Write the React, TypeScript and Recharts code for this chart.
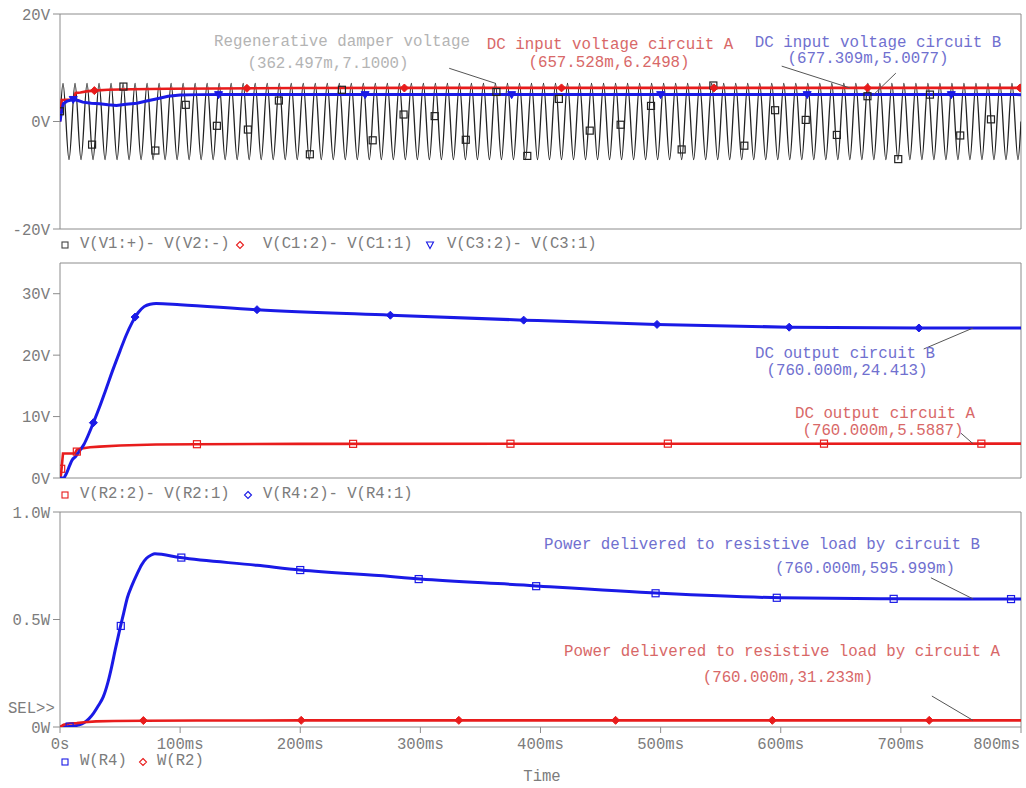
import {
  ComposedChart,
  Line,
  Scatter,
  XAxis,
  YAxis,
  ReferenceArea,
  ReferenceLine,
} from 'recharts'

const FONT = '"Liberation Mono", "Courier New", monospace'
const RED = '#e81c1c'
const BLUE = '#1a1ae6'
const BLACK = '#222'
const FRAME = '#8c8c8c'
const TICK_TEXT = '#7c7c7c'
const NOTE_GRAY = '#b4b4b4'
const NOTE_RED = '#d86868'
const NOTE_BLUE = '#7070cf'

// time axis, ms
const timeTicks = [0, 100, 200, 300, 400, 500, 600, 700, 800]
const timeLabels = ['0s', '100ms', '200ms', '300ms', '400ms', '500ms', '600ms', '700ms', '800ms']

// panel 1 - regenerative damper voltage (peaks / troughs), V
const damperT = [
  0,
  2.5, 7.5, 12.5, 17.5, 22.5, 27.5, 32.5, 37.5, 42.5, 47.5, 52.5, 57.5, 62.5, 67.5, 72.5, 77.5, 82.5, 87.5, 92.5, 97.5,
  102.5, 107.5, 112.5, 117.5, 122.5, 127.5, 132.5, 137.5, 142.5, 147.5, 152.5, 157.5, 162.5, 167.5, 172.5, 177.5, 182.5, 187.5, 192.5, 197.5,
  202.5, 207.5, 212.5, 217.5, 222.5, 227.5, 232.5, 237.5, 242.5, 247.5, 252.5, 257.5, 262.5, 267.5, 272.5, 277.5, 282.5, 287.5, 292.5, 297.5,
  302.5, 307.5, 312.5, 317.5, 322.5, 327.5, 332.5, 337.5, 342.5, 347.5, 352.5, 357.5, 362.5, 367.5, 372.5, 377.5, 382.5, 387.5, 392.5, 397.5,
  402.5, 407.5, 412.5, 417.5, 422.5, 427.5, 432.5, 437.5, 442.5, 447.5, 452.5, 457.5, 462.5, 467.5, 472.5, 477.5, 482.5, 487.5, 492.5, 497.5,
  502.5, 507.5, 512.5, 517.5, 522.5, 527.5, 532.5, 537.5, 542.5, 547.5, 552.5, 557.5, 562.5, 567.5, 572.5, 577.5, 582.5, 587.5, 592.5, 597.5,
  602.5, 607.5, 612.5, 617.5, 622.5, 627.5, 632.5, 637.5, 642.5, 647.5, 652.5, 657.5, 662.5, 667.5, 672.5, 677.5, 682.5, 687.5, 692.5, 697.5,
  702.5, 707.5, 712.5, 717.5, 722.5, 727.5, 732.5, 737.5, 742.5, 747.5, 752.5, 757.5, 762.5, 767.5, 772.5, 777.5, 782.5, 787.5, 792.5, 797.5,
  800,
]
const damperV = [
  0,
  7.1, -7.1, 7.1, -7.1, 7.1, -7.1, 7.1, -7.1, 7.1, -7.1, 7.1, -7.1, 7.1, -7.1, 7.1, -7.1, 7.1, -7.1, 7.1, -7.1,
  7.1, -7.1, 7.1, -7.1, 7.1, -7.1, 7.1, -7.1, 7.1, -7.1, 7.1, -7.1, 7.1, -7.1, 7.1, -7.1, 7.1, -7.1, 7.1, -7.1,
  7.1, -7.1, 7.1, -7.1, 7.1, -7.1, 7.1, -7.1, 7.1, -7.1, 7.1, -7.1, 7.1, -7.1, 7.1, -7.1, 7.1, -7.1, 7.1, -7.1,
  7.1, -7.1, 7.1, -7.1, 7.1, -7.1, 7.1, -7.1, 7.1, -7.1, 7.1, -7.1, 7.1, -7.1, 7.1, -7.1, 7.1, -7.1, 7.1, -7.1,
  7.1, -7.1, 7.1, -7.1, 7.1, -7.1, 7.1, -7.1, 7.1, -7.1, 7.1, -7.1, 7.1, -7.1, 7.1, -7.1, 7.1, -7.1, 7.1, -7.1,
  7.1, -7.1, 7.1, -7.1, 7.1, -7.1, 7.1, -7.1, 7.1, -7.1, 7.1, -7.1, 7.1, -7.1, 7.1, -7.1, 7.1, -7.1, 7.1, -7.1,
  7.1, -7.1, 7.1, -7.1, 7.1, -7.1, 7.1, -7.1, 7.1, -7.1, 7.1, -7.1, 7.1, -7.1, 7.1, -7.1, 7.1, -7.1, 7.1, -7.1,
  7.1, -7.1, 7.1, -7.1, 7.1, -7.1, 7.1, -7.1, 7.1, -7.1, 7.1, -7.1, 7.1, -7.1, 7.1, -7.1, 7.1, -7.1, 7.1, -7.1,
  0,
]
const damperMarkT = [0, 26.7, 52.8, 79.4, 104.7, 130.6, 156.4, 182.2, 208, 234.7, 260.3, 286, 311.9, 337.8, 363.3, 389, 415.3, 441, 466.7, 492, 517.5, 543.9, 569.7, 595.3, 620.8, 646.7, 672.2, 697.8, 724.2, 749.4, 775]
const damperMarkV = [1.9, -4.3, 6.5, -5.4, 3.1, -0.8, -1.5, 3.9, -6.1, 5.9, -3.5, 1.3, 1.0, -3.4, 5.5, -6.4, 4.2, -1.7, -0.6, 2.9, -5.2, 6.7, -4.5, 2.1, 0.3, -2.5, 4.7, -7.0, 5.0, -2.6, 0.4]

// DC input voltage circuit A
const inAT = [0, 0.6, 1.5, 11.5, 13, 17, 22, 28, 40, 60, 90, 130, 200, 300, 800]
const inAV = [0, 1.5, 4.0, 4.1, 5.3, 5.4, 5.6, 5.75, 5.9, 6.0, 6.1, 6.15, 6.22, 6.25, 6.25]
const inAMarkT = [28.6, 155.6, 286.7, 417.5, 544.4, 672.2, 799.2]
const inAMarkV = [5.75, 6.17, 6.23, 6.25, 6.25, 6.25, 6.25]

// DC input voltage circuit B
const inBT = [0, 1, 2.75, 6, 11, 15, 19, 26, 33, 40, 47, 55, 64, 72, 80, 90, 100, 115, 140, 800]
const inBV = [0, 1.5, 3.3, 3.8, 4.1, 3.9, 3.6, 3.4, 3.3, 3.1, 3.0, 3.2, 3.4, 3.8, 4.2, 4.7, 4.95, 5.0, 5.01, 5.0]
const inBMarkT = [11, 132, 254, 376, 500, 622, 742]
const inBMarkV = [4.1, 5.0, 5.0, 5.0, 5.0, 5.0, 5.0]

// panel 2 - DC output circuit A / B, V
const outAT = [0, 0.8, 2.5, 12.5, 14, 18, 25, 33, 50, 80, 114, 200, 400, 800]
const outAV = [0, 0.5, 4.0, 4.0, 4.6, 4.8, 5.0, 5.1, 5.3, 5.45, 5.5, 5.56, 5.58, 5.59]
const outAMarkT = [1, 14, 114, 244, 375, 506, 636, 767]
const outAMarkV = [1.5, 4.3, 5.5, 5.56, 5.58, 5.59, 5.59, 5.59]

const outBT = [0, 3, 5, 8, 10, 13, 17, 20, 24, 28, 33, 38, 44, 50, 55, 60, 65, 70, 75, 80, 100, 164, 275, 386, 497, 607, 715, 800]
const outBV = [0, 0, 0.6, 2.0, 2.9, 3.5, 4.6, 5.5, 7.2, 9.1, 11.6, 14.3, 17.6, 20.7, 23.2, 25.3, 26.9, 27.9, 28.3, 28.4, 28.2, 27.4, 26.5, 25.7, 25.0, 24.55, 24.42, 24.41]
const outBMarkT = [27.8, 62.5, 164, 275, 386, 497, 607, 715]
const outBMarkV = [9.0, 26.2, 27.4, 26.5, 25.7, 25.0, 24.55, 24.42]

// panel 3 - power in the loads, W
const powBT = [0, 8, 12, 16, 20, 24, 28, 32, 36, 40, 43, 46, 50, 53, 56, 60, 64, 68, 72, 76, 79, 100, 164, 200, 275, 300, 386, 400, 500, 600, 700, 800]
const powBV = [0, 0.002, 0.005, 0.01, 0.02, 0.038, 0.065, 0.1, 0.14, 0.21, 0.28, 0.36, 0.46, 0.53, 0.6, 0.66, 0.71, 0.755, 0.785, 0.8, 0.806, 0.788, 0.752, 0.73, 0.7, 0.688, 0.66, 0.655, 0.622, 0.601, 0.596, 0.595]
const powBMarkT = [8, 50.6, 101, 200, 298.6, 396.4, 495.8, 596.7, 694, 791.7]
const powBMarkV = [0.002, 0.47, 0.788, 0.73, 0.688, 0.655, 0.622, 0.601, 0.596, 0.595]

const powAT = [0, 3, 8, 14, 20, 30, 45, 70, 114, 200, 800]
const powAV = [0, 0.01, 0.016, 0.018, 0.022, 0.026, 0.028, 0.029, 0.03, 0.031, 0.031]
const powAMarkT = [69.4, 200.8, 332, 462.5, 593, 723.6]
const powAMarkV = [0.03, 0.031, 0.031, 0.031, 0.031, 0.031]

const pts = (ts: number[], vs: number[]) => ts.map((t, i) => ({ t, v: vs[i] }))

type Kind = 'square' | 'diamond' | 'tri'

function Marker({ cx, cy, kind, color }: { cx?: number; cy?: number; kind: Kind; color: string }) {
  if (cx == null || cy == null) return null
  if (kind === 'square') {
    return <rect x={cx - 3.5} y={cy - 3.5} width={7} height={7} fill="none" stroke={color} strokeWidth={1.2} />
  }
  if (kind === 'diamond') {
    return <path d={`M${cx},${cy - 4}L${cx + 4},${cy}L${cx},${cy + 4}L${cx - 4},${cy}Z`} fill={color} stroke={color} />
  }
  return <path d={`M${cx - 4},${cy - 3}L${cx + 4},${cy - 3}L${cx},${cy + 4}Z`} fill={color} stroke={color} />
}

const TimeTick = (props: any) => {
  const { x, y, payload } = props
  const last = payload.value === 800
  return (
    <text
      x={last ? x - 1 : x}
      y={y}
      dy="0.71em"
      textAnchor={last ? 'end' : 'middle'}
      fill={TICK_TEXT}
      fontSize={15.6}
      fontFamily={FONT}
    >
      {timeLabels[timeTicks.indexOf(payload.value)]}
    </text>
  )
}

interface Series { data: { t: number; v: number }[]; color: string; width: number; curve?: 'linear' | 'monotone' }
interface Marks { data: { t: number; v: number }[]; color: string; kind: Kind }
type Leader = [number, number, number, number]

interface PanelProps {
  top: number
  yDomain: [number, number]
  yTicks: number[]
  yFormat: (v: number) => string
  series: Series[]
  marks: Marks[]
  leaders: Leader[]
  showTime?: boolean
}

function Panel({ top, yDomain, yTicks, yFormat, series, marks, leaders, showTime }: PanelProps) {
  return (
    <div style={{ position: 'absolute', left: 0, top }}>
      <ComposedChart
        width={1026}
        height={showTime ? 259 : 240}
        margin={{ top: 14, right: 5, bottom: showTime ? 0 : 11, left: 0 }}
      >
        <XAxis
          type="number"
          dataKey="t"
          domain={[0, 800]}
          ticks={timeTicks}
          interval={0}
          hide={!showTime}
          height={showTime ? 30 : 0}
          axisLine={false}
          tickLine={{ stroke: FRAME }}
          tickSize={6}
          tickMargin={5}
          tick={<TimeTick />}
          allowDataOverflow
        />
        <YAxis
          type="number"
          dataKey="v"
          domain={yDomain}
          ticks={yTicks}
          interval={0}
          width={60}
          axisLine={false}
          tickLine={{ stroke: FRAME }}
          tickSize={7}
          tickMargin={3}
          tick={{ fill: TICK_TEXT, fontSize: 15.6, fontFamily: FONT }}
          tickFormatter={yFormat}
          allowDataOverflow
        />
        <ReferenceArea
          x1={0}
          x2={800}
          y1={yDomain[0]}
          y2={yDomain[1]}
          fill="none"
          stroke={FRAME}
          strokeWidth={1}
          ifOverflow="visible"
        />
        {series.map((s, i) => (
          <Line
            key={'l' + i}
            data={s.data}
            dataKey="v"
            type={s.curve || 'linear'}
            stroke={s.color}
            strokeWidth={s.width}
            dot={false}
            activeDot={false}
            isAnimationActive={false}
          />
        ))}
        {marks.map((m, i) => (
          <Scatter
            key={'m' + i}
            data={m.data}
            dataKey="v"
            isAnimationActive={false}
            shape={(p: any) => <Marker cx={p.cx} cy={p.cy} kind={m.kind} color={m.color} />}
          />
        ))}
        {leaders.map((l, i) => (
          <ReferenceLine
            key={'r' + i}
            segment={[{ x: l[0], y: l[1] }, { x: l[2], y: l[3] }]}
            stroke="#555"
            strokeWidth={1}
            ifOverflow="visible"
          />
        ))}
      </ComposedChart>
    </div>
  )
}

function Note({ x, y, color, text }: { x: number; y: number; color: string; text: string }) {
  return (
    <div
      style={{
        position: 'absolute',
        left: x,
        top: y,
        transform: 'translate(-50%, -50%)',
        color,
        fontFamily: FONT,
        fontSize: 15.8,
        lineHeight: 1,
        whiteSpace: 'pre',
      }}
    >
      {text}
    </div>
  )
}

interface LegendItem { kind: Kind; color: string; label: string; sx: number; tx: number }

function LegendSymbol({ kind, color }: { kind: Kind; color: string }) {
  let el
  if (kind === 'square') el = <rect x={2} y={2} width={6} height={6} fill="none" stroke={color} strokeWidth={1.1} />
  else if (kind === 'diamond') el = <path d="M5,1.5L8.5,5L5,8.5L1.5,5Z" fill="none" stroke={color} strokeWidth={1.1} />
  else el = <path d="M1.5,2L8.5,2L5,8.5Z" fill="none" stroke={color} strokeWidth={1.1} />
  return (
    <svg width={10} height={10} style={{ display: 'block' }}>
      {el}
    </svg>
  )
}

function LegendRow({ y, items }: { y: number; items: LegendItem[] }) {
  return (
    <>
      {items.map((it, i) => (
        <div key={i}>
          <div style={{ position: 'absolute', left: it.sx - 5, top: y - 5 }}>
            <LegendSymbol kind={it.kind} color={it.color} />
          </div>
          <div
            style={{
              position: 'absolute',
              left: it.tx,
              top: y,
              transform: 'translateY(-50%)',
              fontFamily: FONT,
              fontSize: 15.6,
              lineHeight: 1,
              color: TICK_TEXT,
              whiteSpace: 'pre',
            }}
          >
            {it.label}
          </div>
        </div>
      ))}
    </>
  )
}

export default function App() {
  return (
    <div
      style={{
        position: 'absolute',
        left: 0,
        top: 0,
        width: 1026,
        height: 788,
        background: '#fff',
        overflow: 'hidden',
      }}
    >
      <Panel
        top={0}
        yDomain={[-20, 20]}
        yTicks={[-20, 0, 20]}
        yFormat={(v) => `${v}V`}
        series={[
          { data: pts(damperT, damperV), color: BLACK, width: 1.3, curve: 'monotone' },
          { data: pts(inAT, inAV), color: RED, width: 2.6 },
          { data: pts(inBT, inBV), color: BLUE, width: 3 },
        ]}
        marks={[
          { data: pts(damperMarkT, damperMarkV), color: BLACK, kind: 'square' },
          { data: pts(inAMarkT, inAMarkV), color: RED, kind: 'diamond' },
          { data: pts(inBMarkT, inBMarkV), color: BLUE, kind: 'tri' },
        ]}
        leaders={[
          [324, 9.9, 362.5, 7.1],
          [600.8, 10.3, 657.5, 6.25],
          [695.8, 9.0, 677.3, 5.0],
        ]}
      />
      <Panel
        top={249}
        yDomain={[0, 35]}
        yTicks={[0, 10, 20, 30]}
        yFormat={(v) => `${v}V`}
        series={[
          { data: pts(outAT, outAV), color: RED, width: 2.6 },
          { data: pts(outBT, outBV), color: BLUE, width: 3, curve: 'monotone' },
        ]}
        marks={[
          { data: pts(outAMarkT, outAMarkV), color: RED, kind: 'square' },
          { data: pts(outBMarkT, outBMarkV), color: BLUE, kind: 'diamond' },
        ]}
        leaders={[
          [719, 21.0, 760, 24.41],
          [750, 7.3, 760, 5.59],
        ]}
      />
      <Panel
        top={498}
        showTime
        yDomain={[0, 1]}
        yTicks={[0, 0.5, 1]}
        yFormat={(v) => (v === 0 ? '0W' : `${v.toFixed(1)}W`)}
        series={[
          { data: pts(powBT, powBV), color: BLUE, width: 3, curve: 'monotone' },
          { data: pts(powAT, powAV), color: RED, width: 2.6 },
        ]}
        marks={[
          { data: pts(powBMarkT, powBMarkV), color: BLUE, kind: 'square' },
          { data: pts(powAMarkT, powAMarkV), color: RED, kind: 'diamond' },
        ]}
        leaders={[
          [725, 0.694, 760, 0.596],
          [725.8, 0.144, 760, 0.031],
        ]}
      />

      <Note x={342} y={43} color={NOTE_GRAY} text="Regenerative damper voltage" />
      <Note x={328} y={65} color={NOTE_GRAY} text="(362.497m,7.1000)" />
      <Note x={610} y={46} color={NOTE_RED} text="DC input voltage circuit A" />
      <Note x={609} y={64} color={NOTE_RED} text="(657.528m,6.2498)" />
      <Note x={878} y={44} color={NOTE_BLUE} text="DC input voltage circuit B" />
      <Note x={868} y={60} color={NOTE_BLUE} text="(677.309m,5.0077)" />

      <Note x={845} y={355} color={NOTE_BLUE} text="DC output circuit B" />
      <Note x={847} y={372} color={NOTE_BLUE} text="(760.000m,24.413)" />
      <Note x={885} y={415} color={NOTE_RED} text="DC output circuit A" />
      <Note x={883} y={432} color={NOTE_RED} text="(760.000m,5.5887)" />

      <Note x={762} y={546} color={NOTE_BLUE} text="Power delivered to resistive load by circuit B" />
      <Note x={865} y={570} color={NOTE_BLUE} text="(760.000m,595.999m)" />
      <Note x={782} y={653} color={NOTE_RED} text="Power delivered to resistive load by circuit A" />
      <Note x={788} y={679} color={NOTE_RED} text="(760.000m,31.233m)" />

      <LegendRow
        y={245}
        items={[
          { kind: 'square', color: '#444', label: 'V(V1:+)- V(V2:-)', sx: 65, tx: 80 },
          { kind: 'diamond', color: RED, label: 'V(C1:2)- V(C1:1)', sx: 240, tx: 263 },
          { kind: 'tri', color: BLUE, label: 'V(C3:2)- V(C3:1)', sx: 430, tx: 447 },
        ]}
      />
      <LegendRow
        y={495}
        items={[
          { kind: 'square', color: RED, label: 'V(R2:2)- V(R2:1)', sx: 65, tx: 80 },
          { kind: 'diamond', color: BLUE, label: 'V(R4:2)- V(R4:1)', sx: 248, tx: 263 },
        ]}
      />
      <LegendRow
        y={762}
        items={[
          { kind: 'square', color: BLUE, label: 'W(R4)', sx: 65, tx: 80 },
          { kind: 'diamond', color: RED, label: 'W(R2)', sx: 143, tx: 157 },
        ]}
      />

      <div style={{ position: 'absolute', left: 8, top: 710, transform: 'translateY(-50%)', fontFamily: FONT, fontSize: 15.6, lineHeight: 1, color: TICK_TEXT }}>
        SEL&gt;&gt;
      </div>
      <div style={{ position: 'absolute', left: 542, top: 778, transform: 'translate(-50%, -50%)', fontFamily: FONT, fontSize: 15.6, lineHeight: 1, color: TICK_TEXT }}>
        Time
      </div>
    </div>
  )
}
